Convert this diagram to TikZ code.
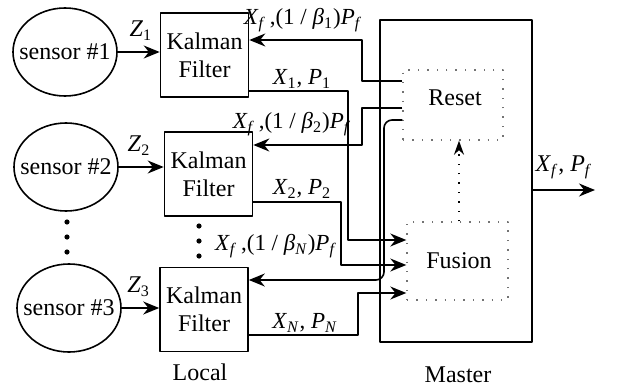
\documentclass[tikz,border=0pt]{standalone}
\usepackage{fontspec}
\setmainfont{Liberation Serif}
\usetikzlibrary{arrows.meta,shapes.geometric}

% italic symbol with a subscript, set in the text font
\newcommand{\vsub}[2]{\textit{#1}\textsubscript{#2}}

\begin{document}
\begin{tikzpicture}[x=0.5pt, y=-0.5pt, line join=round,
    font=\fontsize{12}{14}\selectfont,
    sensor/.style={draw, ellipse, line width=0.8pt, inner sep=0pt,
                   minimum width=52pt, minimum height=44pt},
    kalman/.style={draw, rectangle, line width=0.8pt, align=center,
                   inner sep=0pt, minimum width=44pt, minimum height=42pt},
    inner/.style={draw=black!55, rectangle, loosely dotted, line width=0.7pt,
                  inner sep=0pt},
    link/.style={line width=0.8pt, -{Stealth[length=8pt, width=6.5pt]}},
    lbl/.style={inner sep=0pt, font=\fontsize{11.5}{14}\selectfont}]
  \useasboundingbox (0,0) rectangle (625,385);

  % ========================================================
  % 0. SENSORS (Left Side)
  % ========================================================
  \node[sensor] (s1) at (65,52)  {\makebox[0pt]{sensor \#1}};
  \node[sensor] (s2) at (66,167) {\makebox[0pt]{sensor \#2}};
  \node[sensor] (s3) at (69,308) {\makebox[0pt]{sensor \#3}};

  \foreach \y in {222,237,252} \fill (67,\y) circle (1.3pt);

  % ========================================================
  % 1. LOCAL KALMAN FILTERS
  % ========================================================
  \node[kalman] (kf1) at (204.5,55)  {Kalman\\Filter};
  \node[kalman] (kf2) at (208.5,174) {Kalman\\Filter};
  \node[kalman] (kf3) at (204,309.5) {Kalman\\Filter};

  \foreach \y in {226,241,256} \fill (199,\y) circle (1.3pt);

  \node (local) at (200,372) {Local};

  % ========================================================
  % 2. MASTER WITH RESET AND FUSION
  % ========================================================
  \node[draw, rectangle, line width=0.8pt, minimum width=76pt,
        minimum height=161pt, inner sep=0pt] (master) at (456,181) {};
  \node[inner, minimum width=50pt, minimum height=35pt] (reset) at (453,105) {};
  \node at (455,98) {Reset};
  \node[inner, minimum width=50.5pt, minimum height=39pt] (fusion) at (457.5,261) {};
  \node at (459,261) {Fusion};

  \node (masterlbl) at (458,375) {Master};

  % ========================================================
  % 3. SENSOR MEASUREMENTS
  % ========================================================
  \draw[link] (s1) -- (s1 -| kf1.west) node[pos=0.55, above=2pt] {\vsub{Z}{1}};
  \draw[link] (s2) -- (s2 -| kf2.west) node[pos=0.45, above=2pt] {\vsub{Z}{2}};
  \draw[link] (s3) -- (s3 -| kf3.west) node[pos=0.45, above=2pt] {\vsub{Z}{3}};

  % ========================================================
  % 4. RESET FEEDBACK TO THE FILTERS
  % ========================================================
  \draw[link] (reset.west |- 0,81) -- (362,81) |- (kf1.east |- 0,40);
  \draw[link] (reset.west |- 0,108) -- (362,108) |- (kf2.east |- 0,145);
  \draw[link, rounded corners=4pt] (reset.west |- 0,120) -- (384,120) |- (kf3.east |- 0,280);

  \node[lbl] at (303,20)  {\vsub{X}{\textit{f}}\,,(1 / \vsub{β}{1})\vsub{P}{\textit{f}}};
  \node[lbl] at (292,124) {\vsub{X}{\textit{f}}\,,(1 / \vsub{β}{2})\vsub{P}{\textit{f}}};
  \node[lbl] at (276,246) {\vsub{X}{\textit{f}}\,,(1 / \vsub{β}{\textit{N}})\vsub{P}{\textit{f}}};

  % ========================================================
  % 5. LOCAL ESTIMATES TO FUSION
  % ========================================================
  \draw[link] (kf1.east |- 0,91)  -- (348,91)  |- (fusion.west |- 0,240);
  \draw[link] (kf2.east |- 0,202) -- (341,202) |- (fusion.west |- 0,265);
  \draw[link] (kf3.east |- 0,335) -- (358,335) |- (fusion.west |- 0,293);

  \node[lbl] at (302,79)  {\vsub{X}{1}, \vsub{P}{1}};
  \node[lbl] at (302,189) {\vsub{X}{2}, \vsub{P}{2}};
  \node[lbl] at (305,323) {\vsub{X}{\textit{N}}, \vsub{P}{\textit{N}}};

  % ========================================================
  % 6. FUSION -> RESET AND OUTPUT
  % ========================================================
  \draw[line width=0.7pt, loosely dotted, -{Stealth[length=7pt, width=5pt]}]
    (fusion.north -| 459,0) -- (reset.south -| 459,0);

  \draw[link] (master.east |- 0,190) -- (595,190)
    node[pos=0.5, above=2pt] {\vsub{X}{\textit{f}}, \vsub{P}{\textit{f}}};

\end{tikzpicture}
\end{document}
